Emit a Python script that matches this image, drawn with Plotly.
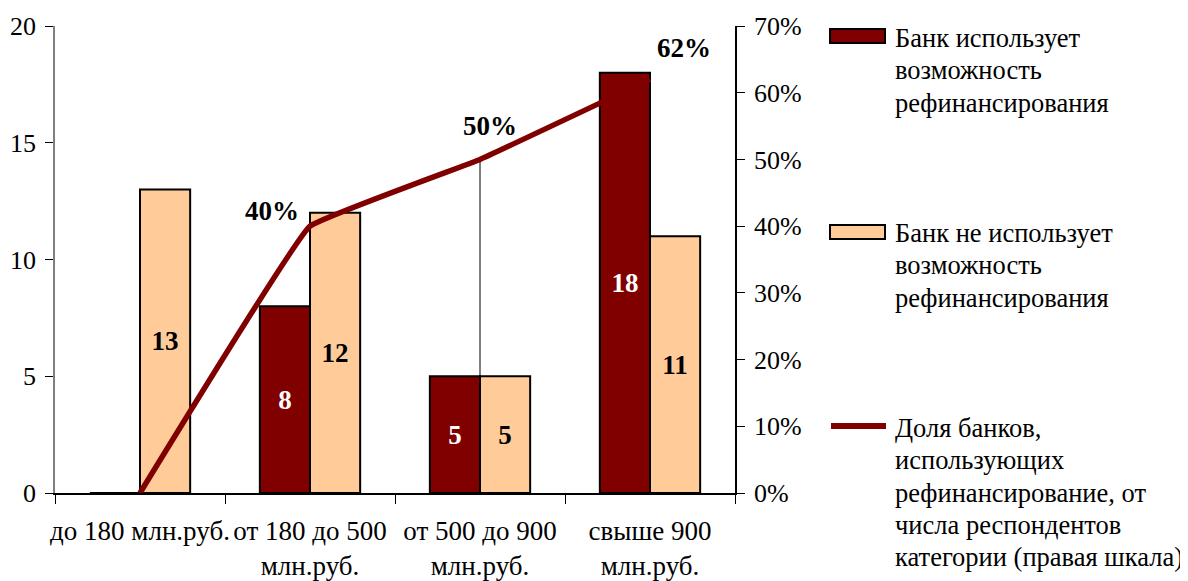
import plotly.graph_objects as go

categories = ["до 180 млн.руб.", "от 180 до 500<br>млн.руб.", "от 500 до 900<br>млн.руб.", "свыше 900<br>млн.руб."]
uses_refin = [0, 8, 5, 18]
not_uses_refin = [13, 12, 5, 11]
share_pct = [0.0, 0.40, 0.50, 0.62]

legend_uses = ["Банк использует", "возможность", "рефинансирования"]
legend_not = ["Банк не использует", "возможность", "рефинансирования"]
legend_share = ["Доля банков,", "использующих", "рефинансирование, от",
                "числа респондентов", "категории (правая шкала)"]

DARK = "#800000"
LIGHT = "#FFCC99"
FONT = "Liberation Serif"
FS = 27
TFS = 26
LFS = 26.5

# the page body has an 8px margin; compensate
OX, OY = 8, 8
W, H = 1188 - OX, 581 - OY
L, R, T, B = 55 - OX, 735 - OX, 26 - OY, 493 - OY

fig = go.Figure()

dx, dy = [], []
for c, v in zip(categories, share_pct):
    dx += [c, c, None]
    dy += [0, v, None]

fig.add_trace(go.Bar(
    x=categories, y=uses_refin, name=" ".join(legend_uses),
    marker=dict(color=DARK, line=dict(color="black", width=2)),
    text=[str(v) if v else "" for v in uses_refin],
    textposition="inside", insidetextanchor="middle",
    textfont=dict(family=FONT, size=FS, color="white", weight="bold"),
    textangle=0, showlegend=False,
))
fig.add_trace(go.Bar(
    x=categories, y=not_uses_refin, name=" ".join(legend_not),
    marker=dict(color=LIGHT, line=dict(color="black", width=2)),
    text=[str(v) if v else "" for v in not_uses_refin],
    textposition="inside", insidetextanchor="middle",
    textfont=dict(family=FONT, size=FS, color="black", weight="bold"),
    textangle=0, showlegend=False,
))
fig.add_trace(go.Scatter(
    x=dx, y=dy, yaxis="y2", mode="lines",
    line=dict(color="black", width=1), showlegend=False, hoverinfo="skip",
))
fig.add_trace(go.Scatter(
    x=categories, y=share_pct, yaxis="y2", mode="lines", name=" ".join(legend_share),
    line=dict(color=DARK, width=5.5, shape="spline", smoothing=0.2),
    showlegend=False,
))

shifts = [None, (-38, 15), (10, 33), (34, 31)]
for i, (c, v) in enumerate(zip(categories, share_pct)):
    if shifts[i] is None:
        continue
    fig.add_annotation(x=c, y=v, yref="y2", text=f"<b>{round(v*100)}%</b>",
                       showarrow=False, xshift=shifts[i][0], yshift=shifts[i][1],
                       font=dict(family=FONT, size=FS, color="black"))

def px_x(x):
    x -= OX
    return (x - L) / (R - L)

def px_y(y):
    y -= OY
    return (B - y) / (B - T)

legend_items = [
    ("bar", DARK, legend_uses, 36, 38),
    ("bar", LIGHT, legend_not, 232, 233),
    ("line", DARK, legend_share, 426, 428),
]
LSP = 32.3
for kind, col, lines, sy, ty in legend_items:
    if kind == "bar":
        fig.add_shape(type="rect", xref="paper", yref="paper",
                      x0=px_x(830), x1=px_x(885), y0=px_y(sy - 7), y1=px_y(sy + 7),
                      fillcolor=col, line=dict(color="black", width=2))
    else:
        fig.add_shape(type="line", xref="paper", yref="paper",
                      x0=px_x(831), x1=px_x(886), y0=px_y(sy), y1=px_y(sy),
                      line=dict(color=col, width=6))
    for k, ln in enumerate(lines):
        fig.add_annotation(xref="paper", yref="paper", x=px_x(893), y=px_y(ty + k * LSP),
                           xanchor="left", yanchor="middle", align="left", showarrow=False,
                           text=ln, font=dict(family=FONT, size=LFS, color="black"))

fig.update_layout(
    width=W, height=H,
    margin=dict(l=L, r=W - R, t=T, b=H - B, pad=0, autoexpand=False),
    paper_bgcolor="white", plot_bgcolor="white",
    barmode="group", bargap=0.41, bargroupgap=0,
    font=dict(family=FONT, size=FS, color="black"),
    xaxis=dict(type="category", showline=True, linecolor="black", linewidth=1.5,
               ticks="outside", tickson="boundaries", ticklen=9, tickcolor="black",
               showgrid=False, tickfont=dict(family=FONT, size=FS), tickangle=0,
               ticklabelstandoff=13, automargin=False),
    yaxis=dict(range=[0, 20], dtick=5, showline=True, linecolor="#808080", linewidth=1.5,
               ticks="outside", ticklen=8, tickcolor="black", showgrid=False, automargin=False,
               zeroline=False, tickfont=dict(family=FONT, size=TFS), ticklabelstandoff=4),
    yaxis2=dict(range=[0, 0.70], dtick=0.1, tickformat=".0%", overlaying="y", side="right",
                showline=True, linecolor="black", linewidth=1.5, ticks="outside", ticklen=8,
                tickcolor="black", showgrid=False, zeroline=False, automargin=False,
                tickfont=dict(family=FONT, size=TFS), ticklabelstandoff=4),
    showlegend=False,
)

fig.write_html("out.html")
